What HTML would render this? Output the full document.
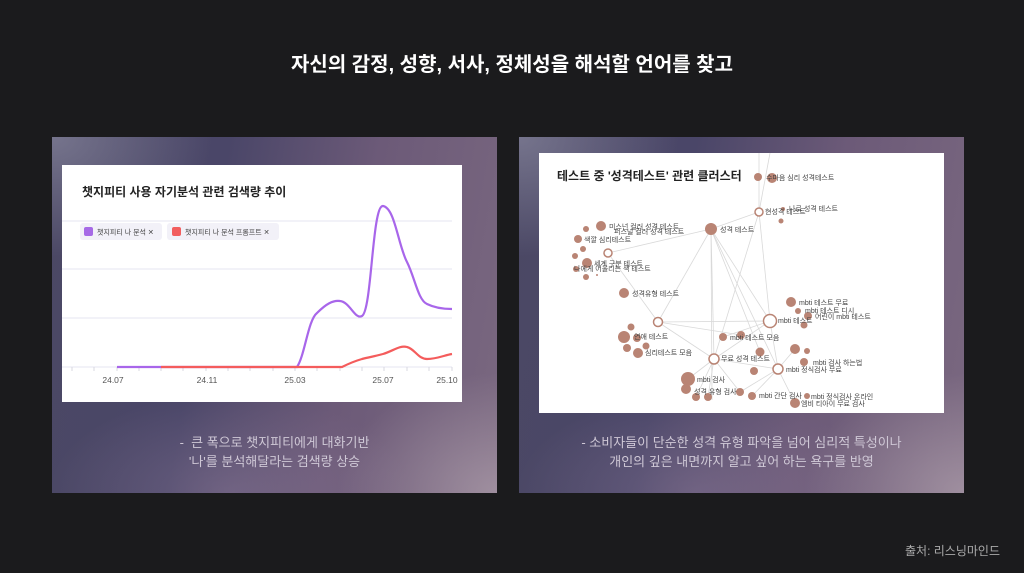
<!DOCTYPE html>
<html><head><meta charset="utf-8"><style>
*{margin:0;padding:0;box-sizing:border-box}
body{width:1024px;height:573px;background:#1b1b1d;position:relative;overflow:hidden;font-family:"Liberation Sans","Noto Sans CJK KR",sans-serif}
.h{position:absolute;top:48px;left:0;width:1024px;text-align:center;color:#fff;font-size:20px;font-weight:bold}
.p{position:absolute;top:137px;width:445px;height:356px;background:
radial-gradient(ellipse 160px 120px at 100% 100%,rgba(190,175,185,.55),transparent),
radial-gradient(ellipse 160px 120px at 0% 0%,rgba(170,170,190,.45),transparent),
radial-gradient(ellipse 180px 100px at 40% 100%,rgba(150,130,160,.4),transparent),
linear-gradient(100deg,#4b4864 0%,#4a4668 35%,#6c5a78 65%,#7a6880 100%)}
.w{position:absolute;background:#fff}
.c{position:absolute;width:445px;text-align:center;color:#cfc8d6;font-size:13px;line-height:19px}
</style></head><body>
<div class="h">자신의 감정, 성향, 서사, 정체성을 해석할 언어를 찾고</div>
<div class="p" style="left:52px"></div>
<div class="p" style="left:519px"></div>
<div class="w" style="left:62px;top:165px;width:400px;height:237px"></div>
<div class="w" style="left:539px;top:153px;width:405px;height:260px"></div>
<svg style="position:absolute;left:0;top:0" width="1024" height="573" font-family="Liberation Sans, Noto Sans CJK KR, sans-serif">
<text x="82" y="196" font-size="12" font-weight="bold" fill="#222">챗지피티 사용 자기분석 관련 검색량 추이</text>
<g stroke="#e6e6f0" stroke-width="1"><line x1="62" y1="221" x2="452" y2="221"/><line x1="62" y1="269" x2="452" y2="269"/><line x1="62" y1="318" x2="452" y2="318"/><line x1="62" y1="367" x2="452" y2="367"/></g>
<g stroke="#d8d8e0"><line x1="72" y1="367" x2="72" y2="371"/><line x1="94" y1="367" x2="94" y2="371"/><line x1="117" y1="367" x2="117" y2="371"/><line x1="139" y1="367" x2="139" y2="371"/><line x1="161" y1="367" x2="161" y2="371"/><line x1="183" y1="367" x2="183" y2="371"/><line x1="206" y1="367" x2="206" y2="371"/><line x1="228" y1="367" x2="228" y2="371"/><line x1="250" y1="367" x2="250" y2="371"/><line x1="273" y1="367" x2="273" y2="371"/><line x1="295" y1="367" x2="295" y2="371"/><line x1="317" y1="367" x2="317" y2="371"/><line x1="340" y1="367" x2="340" y2="371"/><line x1="362" y1="367" x2="362" y2="371"/><line x1="384" y1="367" x2="384" y2="371"/><line x1="407" y1="367" x2="407" y2="371"/><line x1="429" y1="367" x2="429" y2="371"/><line x1="452" y1="367" x2="452" y2="371"/></g>
<g font-size="8.5" fill="#555" text-anchor="middle"><text x="113" y="383">24.07</text><text x="207" y="383">24.11</text><text x="295" y="383">25.03</text><text x="383" y="383">25.07</text><text x="447" y="383">25.10</text></g>
<rect x="80" y="223" width="82" height="17" rx="3" fill="#f2f1f8"/><rect x="84" y="227" width="9" height="9" rx="2" fill="#a66ae6"/>
<text x="97" y="234.5" font-size="7" fill="#444">챗지피티 나 분석 ✕</text>
<rect x="167" y="223" width="112" height="17" rx="3" fill="#f2f1f8"/><rect x="172" y="227" width="9" height="9" rx="2" fill="#f25e5e"/>
<text x="185" y="234.5" font-size="7" fill="#444">챗지피티 나 분석 프롬프트 ✕</text>
<path d="M117 367 L297 367 C305 355 308 320 317 313 C326 304 333 300 340 301 C350 302 355 320 362 316 C372 310 372 205 383 206 C395 208 398 245 407 262 C415 278 418 300 427 304 C435 308 445 309 452 309" fill="none" stroke="#a866ea" stroke-width="2.2"/>
<path d="M161 367 L342 367 C350 363 355 361 362 359 C370 357 376 356 383 354 C393 351 400 345 407 347 C415 349 418 359 427 359 C437 359 445 355 452 354" fill="none" stroke="#f45c5c" stroke-width="2.2"/>
<text x="557" y="180" font-size="12" font-weight="bold" fill="#222">테스트 중 '성격테스트' 관련 클러스터</text>
<g stroke="#d9d9d9" stroke-width="0.8" fill="none">
<line x1="759" y1="153" x2="759" y2="212"/><line x1="770" y1="153" x2="759" y2="212"/><line x1="759" y1="212" x2="711" y2="229"/><line x1="608" y1="253" x2="711" y2="229"/><line x1="759" y1="212" x2="714" y2="359"/><line x1="759" y1="212" x2="770" y2="321"/><line x1="711" y1="229" x2="658" y2="322"/><line x1="711" y1="229" x2="770" y2="321"/><line x1="711" y1="229" x2="778" y2="369"/><line x1="711" y1="229" x2="714" y2="359"/><line x1="711" y1="229" x2="760" y2="352"/><line x1="608" y1="253" x2="658" y2="322"/><line x1="658" y1="322" x2="770" y2="321"/><line x1="658" y1="322" x2="714" y2="359"/><line x1="658" y1="322" x2="741" y2="335"/><line x1="714" y1="359" x2="770" y2="321"/><line x1="714" y1="359" x2="778" y2="369"/><line x1="770" y1="321" x2="778" y2="369"/><line x1="714" y1="359" x2="688" y2="379"/><line x1="714" y1="359" x2="696" y2="397"/><line x1="714" y1="359" x2="708" y2="397"/><line x1="714" y1="359" x2="740" y2="392"/><line x1="778" y1="369" x2="752" y2="396"/><line x1="778" y1="369" x2="795" y2="403"/><line x1="778" y1="369" x2="740" y2="392"/><line x1="778" y1="369" x2="795" y2="349"/><line x1="770" y1="321" x2="723" y2="337"/><line x1="711" y1="229" x2="712" y2="400"/>
</g>
<g fill="#b98474">
<circle cx="758" cy="177" r="4"/><circle cx="772" cy="178" r="5"/><circle cx="783" cy="209" r="2"/><circle cx="781" cy="221" r="2.5"/><circle cx="711" cy="229" r="6"/>
<circle cx="601" cy="226" r="5"/><circle cx="586" cy="229" r="3"/><circle cx="578" cy="239" r="4"/><circle cx="583" cy="249" r="3"/><circle cx="575" cy="256" r="3"/><circle cx="587" cy="263" r="5"/><circle cx="576" cy="269" r="3"/><circle cx="586" cy="277" r="3"/><circle cx="597" cy="275" r="1"/>
<circle cx="624" cy="293" r="5"/><circle cx="631" cy="327" r="3.5"/><circle cx="624" cy="337" r="6"/><circle cx="637" cy="338" r="4"/><circle cx="646" cy="346" r="3.5"/><circle cx="627" cy="348" r="4"/><circle cx="638" cy="353" r="5"/>
<circle cx="723" cy="337" r="4"/><circle cx="741" cy="335" r="4"/><circle cx="760" cy="352" r="4.5"/><circle cx="754" cy="371" r="4"/>
<circle cx="688" cy="379" r="7"/><circle cx="686" cy="389" r="5"/><circle cx="696" cy="397" r="4"/><circle cx="708" cy="397" r="4"/><circle cx="740" cy="392" r="4"/><circle cx="752" cy="396" r="4"/>
<circle cx="791" cy="302" r="5"/><circle cx="798" cy="311" r="3"/><circle cx="808" cy="316" r="4"/><circle cx="804" cy="325" r="3.5"/><circle cx="795" cy="349" r="5"/><circle cx="807" cy="351" r="3"/><circle cx="804" cy="362" r="4"/><circle cx="795" cy="403" r="5"/><circle cx="807" cy="396" r="3"/>
</g>
<g fill="#fff" stroke="#b98474" stroke-width="1.5"><circle cx="759" cy="212" r="4"/><circle cx="608" cy="253" r="4"/><circle cx="658" cy="322" r="4.5"/><circle cx="714" cy="359" r="5"/><circle cx="770" cy="321" r="6.5"/><circle cx="778" cy="369" r="5"/></g>
<g font-size="7" fill="#444">
<text x="766" y="180">수마음 심리 성격테스트</text><text x="765" y="214">현성격 테스트</text><text x="789" y="211">나로 성격 테스트</text><text x="720" y="232">성격 테스트</text>
<text x="609" y="229">미스넌 컬러 성격 테스트</text><text x="614" y="234">퍼스널 컬러 성격 테스트</text><text x="584" y="242">색깔 심리테스트</text><text x="594" y="266">세계 구분 테스트</text><text x="574" y="271">나에게 어울리는 색 테스트</text>
<text x="632" y="296">성격유형 테스트</text><text x="634" y="339">연애 테스트</text><text x="645" y="355">심리테스트 모음</text>
<text x="730" y="340">mbti 테스트 모음</text><text x="721" y="361">무료 성격 테스트</text><text x="697" y="382">mbti 검사</text><text x="694" y="394">성격 유형 검사</text><text x="759" y="398">mbti 간단 검사</text>
<text x="799" y="305">mbti 테스트 무료</text><text x="805" y="313">mbti 테스트 디시</text><text x="815" y="319">어린이 mbti 테스트</text><text x="778" y="323">mbti 테스트</text>
<text x="813" y="365">mbti 검사 하는법</text><text x="786" y="372">mbti 정식검사 무료</text><text x="811" y="399">mbti 정식검사 온라인</text><text x="801" y="406">엠비 티아이 무료 검사</text>
</g>
</svg>
<div class="c" style="left:52px;top:433px">-&nbsp; 큰 폭으로 챗지피티에게 대화기반<br>'나'를 분석해달라는 검색량 상승</div>
<div class="c" style="left:519px;top:433px">- 소비자들이 단순한 성격 유형 파악을 넘어 심리적 특성이나<br>개인의 깊은 내면까지 알고 싶어 하는 욕구를 반영</div>
<div style="position:absolute;left:905px;top:542px;color:#aaa;font-size:12px">출처: 리스닝마인드</div>
</body></html>
